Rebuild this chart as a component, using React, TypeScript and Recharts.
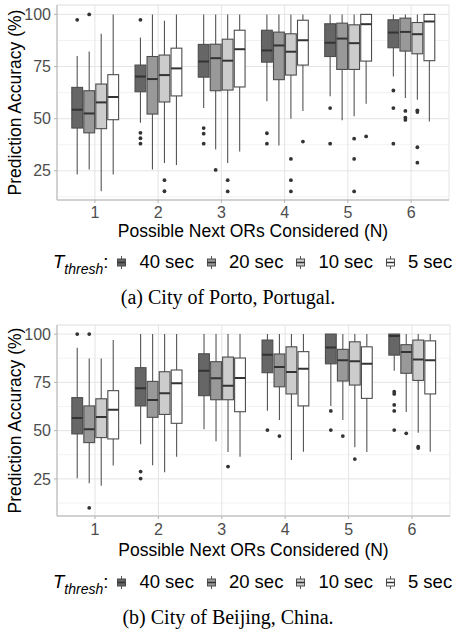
import React from 'react';
import { ComposedChart, Bar, XAxis, YAxis, CartesianGrid } from 'recharts';

type Five = [number, number, number, number, number];

const groups = ['1', '2', '3', '4', '5', '6'];
const thresholds = ['40 sec', '20 sec', '10 sec', '5 sec'];
const fills = ['#666666', '#999999', '#cccccc', '#ffffff'];

const yTicks = [25, 50, 75, 100];
const yMinorTicks = [12.5, 37.5, 62.5, 87.5];

// each entry: [lower whisker, q1, median, q3, upper whisker] for N = 1..6
const porto40: Five[] = [
  [23.2, 45.5, 54.3, 65.0, 80.1],
  [48.0, 62.9, 70.2, 75.7, 88.9],
  [55.1, 69.9, 77.4, 85.6, 100],
  [58.3, 77.1, 82.7, 92.4, 100],
  [60.7, 79.8, 86.4, 95.5, 100],
  [70.2, 84.0, 91.3, 97.4, 100],
];
const porto20: Five[] = [
  [25.6, 43.2, 52.5, 63.4, 82.2],
  [25.6, 52.2, 69.0, 79.8, 100],
  [35.2, 63.4, 79.0, 85.7, 100],
  [37.1, 68.7, 85.1, 91.5, 100],
  [49.2, 73.6, 88.4, 95.8, 100],
  [59.9, 82.4, 91.6, 98.2, 100],
];
const porto10: Five[] = [
  [15.2, 45.2, 57.8, 66.6, 90.7],
  [28.8, 58.0, 70.9, 80.5, 96.9],
  [28.8, 63.7, 77.8, 88.1, 100],
  [49.9, 70.9, 82.1, 90.7, 100],
  [51.1, 73.6, 86.2, 95.0, 100],
  [59.1, 81.1, 90.5, 96.1, 100],
];
const porto5: Five[] = [
  [23.2, 49.5, 60.4, 71.1, 100],
  [27.8, 60.9, 74.1, 83.8, 100],
  [34.2, 65.2, 83.3, 92.4, 100],
  [53.7, 75.7, 87.6, 97.2, 100],
  [57.2, 77.6, 95.3, 100, 100],
  [48.6, 77.8, 96.6, 100, 100],
];
const portoOut40 = [[97.4], [97.4, 43.2, 40.6, 38.0], [45.5, 42.8, 38.0], [43.0, 38.0], [55.1, 38.0], [63.5, 55.1, 38.0]];
const portoOut20 = [[100], [], [25.4], [], [], [53.7, 50.5, 49.4]];
const portoOut10 = [[], [20.5, 15.2], [20.5, 15.1], [30.7, 20.5, 15.1], [40.4, 30.7, 15.1], [54.0, 53.2, 36.3, 28.9]];
const portoOut5 = [[], [], [], [39.0], [41.5], []];

const beijing40: Five[] = [
  [25.3, 48.3, 56.5, 67.1, 92.9],
  [42.9, 62.8, 71.9, 82.6, 100],
  [50.7, 68.1, 81.0, 89.8, 100],
  [60.3, 80.0, 89.3, 96.9, 100],
  [62.8, 84.6, 93.1, 100, 100],
  [81.0, 89.1, 99.0, 100, 100],
];
const beijing20: Five[] = [
  [22.7, 43.8, 50.7, 62.8, 87.4],
  [32.1, 56.9, 65.9, 75.5, 100],
  [44.5, 66.0, 77.1, 85.7, 100],
  [55.5, 72.7, 82.9, 89.7, 100],
  [55.5, 75.7, 86.4, 92.1, 100],
  [59.6, 79.7, 90.7, 94.5, 100],
];
const beijing10: Five[] = [
  [21.5, 46.4, 57.1, 66.5, 87.4],
  [28.4, 58.4, 69.3, 80.5, 100],
  [39.0, 66.0, 73.3, 88.1, 100],
  [34.8, 69.0, 80.3, 93.4, 100],
  [41.4, 73.6, 85.9, 96.0, 100],
  [48.9, 76.0, 86.9, 96.9, 100],
];
const beijing5: Five[] = [
  [31.9, 45.7, 60.8, 70.7, 96.9],
  [36.5, 53.8, 74.6, 81.4, 100],
  [36.5, 59.8, 77.2, 87.6, 100],
  [39.1, 62.8, 82.1, 90.9, 100],
  [39.0, 66.7, 84.6, 93.4, 100],
  [39.1, 69.0, 86.5, 96.5, 100],
];
const beijingOut40 = [[100], [28.8, 25.2], [], [50.3], [60.2, 50.3], [70.2, 69.0, 63.3, 60.2, 50.3]];
const beijingOut20 = [[100, 10.0], [], [], [47.2], [47.2], [48.6]];
const beijingOut10 = [[], [], [31.4], [], [35.3], [41.7, 41.0]];
const beijingOut5 = [[], [], [], [], [], []];

function buildRows(boxes: Five[][], outs: number[][][]) {
  return groups.map((g, i) => ({
    group: g,
    stats: boxes.map((b, s) => ({
      lo: b[i][0], q1: b[i][1], med: b[i][2], q3: b[i][3], hi: b[i][4], out: outs[s][i],
    })),
  }));
}

const portoRows = buildRows([porto40, porto20, porto10, porto5], [portoOut40, portoOut20, portoOut10, portoOut5]);
const beijingRows = buildRows([beijing40, beijing20, beijing10, beijing5], [beijingOut40, beijingOut20, beijingOut10, beijingOut5]);

const FONT = '"Liberation Sans", Arial, sans-serif';

function boxShape(props: any, s: number) {
  const { x, y, width, height, payload } = props;
  const st = payload.stats[s];
  // bar spans [lo, hi]; place the other stats on the same linear scale
  const py = (v: number) => y + ((st.hi - v) / (st.hi - st.lo)) * height;
  const pad = width * 0.05;
  const cx = x + width / 2;
  return (
    <g>
      <line x1={cx} x2={cx} y1={py(st.hi)} y2={py(st.lo)} stroke="#555" strokeWidth={1.1} />
      <rect x={x + pad} y={py(st.q3)} width={width - 2 * pad} height={py(st.q1) - py(st.q3)}
        fill={fills[s]} stroke="#4d4d4d" strokeWidth={1.1} />
      <line x1={x + pad} x2={x + width - pad} y1={py(st.med)} y2={py(st.med)} stroke="#333" strokeWidth={2} />
      {st.out.map((v: number, k: number) => (
        <circle key={k} cx={cx} cy={py(v)} r={1.9} fill="#333" />
      ))}
    </g>
  );
}

interface PanelProps {
  rows: any[];
  domain: [number, number];
  top: number;
  height: number;
  right: number;
  tickGap: number;
  titleOffset: number;
}

function Panel({ rows, domain, top, height, right, tickGap, titleOffset }: PanelProps) {
  return (
    <div style={{ position: 'absolute', top, left: 0 }}>
      <ComposedChart width={456} height={height} data={rows} barCategoryGap="12.5%" barGap={0}
        margin={{ top: 5, right, bottom: 0, left: 0 }} style={{ fontFamily: FONT }}>
        <CartesianGrid yAxisId="minor" vertical={false} stroke="#f2f2f2" />
        <CartesianGrid stroke="#e4e4e4" />
        <XAxis dataKey="group" padding={{ left: 6.3, right: 6.3 }} height={45}
          tickSize={3} tickMargin={tickGap - 3}
          tick={{ fill: '#4d4d4d', fontSize: 16, fontFamily: FONT }}
          tickLine={{ stroke: '#b3b3b3' }} axisLine={{ stroke: '#b3b3b3' }}
          label={{ value: 'Possible Next ORs Considered (N)', position: 'insideBottom', offset: titleOffset,
            fill: '#000', fontSize: 17.5, fontFamily: FONT }} />
        <XAxis xAxisId="top" orientation="top" dataKey="group" height={0} tick={false} tickLine={false}
          axisLine={{ stroke: '#b3b3b3' }} />
        <YAxis domain={domain} ticks={yTicks} allowDataOverflow width={57} tickSize={3} tickMargin={3}
          tick={{ fill: '#4d4d4d', fontSize: 16, fontFamily: FONT }}
          tickLine={{ stroke: '#b3b3b3' }} axisLine={{ stroke: '#b3b3b3' }}
          label={{ value: 'Prediction Accuracy (%)', angle: -90, position: 'insideLeft', offset: 14.5,
            fill: '#000', fontSize: 17.5, fontFamily: FONT, style: { textAnchor: 'middle' } }} />
        <YAxis yAxisId="minor" hide domain={domain} ticks={yMinorTicks} allowDataOverflow />
        <YAxis yAxisId="right" orientation="right" width={0} domain={domain} allowDataOverflow
          tick={false} tickLine={false} axisLine={{ stroke: '#b3b3b3' }} />
        {thresholds.map((t, s) => (
          <Bar key={t} name={t} dataKey={(r: any) => [r.stats[s].lo, r.stats[s].hi]} fill={fills[s]}
            shape={(p: any) => boxShape(p, s)} isAnimationActive={false} />
        ))}
      </ComposedChart>
    </div>
  );
}

function LegendIcon({ fill }: { fill: string }) {
  return (
    <svg width={9} height={13} style={{ display: 'block' }}>
      <line x1={4.5} x2={4.5} y1={0} y2={13} stroke="#555" strokeWidth={1} />
      <rect x={0.5} y={3} width={8} height={7} fill={fill} stroke="#4d4d4d" strokeWidth={1} />
      <line x1={0.5} x2={8.5} y1={6.5} y2={6.5} stroke="#333" strokeWidth={1.5} />
    </svg>
  );
}

function Legend({ top }: { top: number }) {
  return (
    <div style={{ position: 'absolute', top, left: 53, display: 'flex', alignItems: 'center',
      fontFamily: FONT, fontSize: 18.5, color: '#000', whiteSpace: 'nowrap' }}>
      <span>
        <i>T</i>
        <span style={{ fontSize: 14, fontStyle: 'italic', position: 'relative', top: 6 }}>thresh</span>:
      </span>
      {thresholds.map((t, s) => (
        <div key={t} style={{ display: 'flex', alignItems: 'center', marginLeft: s === 0 ? 9 : 13 }}>
          <LegendIcon fill={fills[s]} />
          <span style={{ marginLeft: 13 }}>{t}</span>
        </div>
      ))}
    </div>
  );
}

function Caption({ top, text }: { top: number; text: string }) {
  return (
    <div style={{ position: 'absolute', top, left: 0, width: 456, textAlign: 'center',
      fontFamily: '"Liberation Serif", "Times New Roman", serif', fontSize: 20, color: '#000' }}>
      {text}
    </div>
  );
}

export default function App() {
  return (
    <div style={{ position: 'absolute', top: 0, left: 0, width: 456, height: 642, background: '#fff' }}>
      <Panel rows={portoRows} domain={[11, 104.5]} top={0} height={245} right={7} tickGap={7} titleOffset={8.5} />
      <Legend top={251} />
      <Caption top={286} text="(a) City of Porto, Portugal." />
      <Panel rows={beijingRows} domain={[5.8, 104.7]} top={320} height={241} right={6} tickGap={8} titleOffset={5.5} />
      <Legend top={571} />
      <Caption top={605.5} text="(b) City of Beijing, China." />
    </div>
  );
}
